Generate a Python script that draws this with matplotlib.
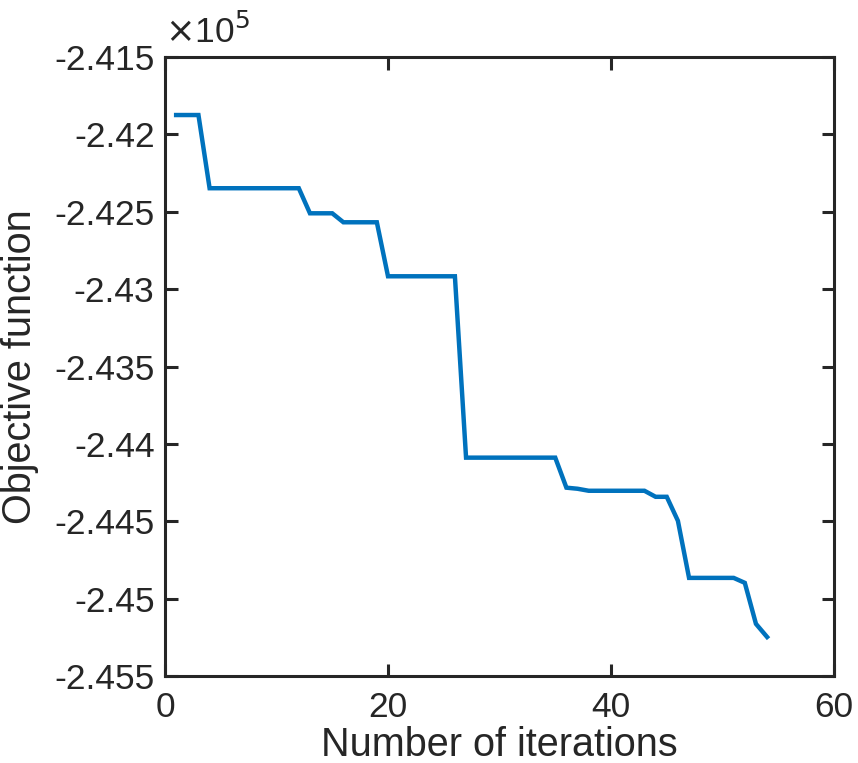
import matplotlib
matplotlib.use("Agg")
import matplotlib.pyplot as plt
from matplotlib.ticker import FuncFormatter

# ========== Data ==========
iterations = list(range(1, 55))
objective = [
    -241875, -241875, -241875,
    -242348, -242348, -242348, -242348, -242348, -242348, -242348, -242348, -242348,
    -242510, -242510, -242510,
    -242568, -242568, -242568, -242568,
    -242917, -242917, -242917, -242917, -242917, -242917, -242917,
    -244089, -244089, -244089, -244089, -244089, -244089, -244089, -244089, -244089,
    -244283, -244290,
    -244303, -244303, -244303, -244303, -244303, -244303,
    -244342, -244342,
    -244497,
    -244866, -244866, -244866, -244866, -244866,
    -244898,
    -245163,
    -245248,
]
x_ticks = [0, 20, 40, 60]
y_ticks = [-245500, -245000, -244500, -244000, -243500, -243000, -242500, -242000, -241500]

# ========== Style ==========
plt.rcParams["font.family"] = ["Liberation Sans", "DejaVu Sans"]
AX_COLOR = "#262626"
TICK_FS = 25.5
LABEL_FS = 28.5

fig = plt.figure(figsize=(8.58, 7.63), dpi=100)
ax = fig.add_axes([165 / 858, 1 - 676 / 763, (834 - 165) / 858, (676 - 57) / 763])

ax.plot(iterations, objective, color="#0072BD", linewidth=3.2, solid_joinstyle="miter")

ax.set_xlim(0, 60)
ax.set_ylim(-245500, -241500)
ax.set_xticks(x_ticks)
ax.set_yticks(y_ticks)
ax.yaxis.set_major_formatter(FuncFormatter(lambda v, p: "%g" % round(v / 1e5, 4)))

for side in ["left", "right", "top", "bottom"]:
    ax.spines[side].set_linewidth(2.2)
    ax.spines[side].set_color(AX_COLOR)
ax.tick_params(direction="in", length=9, width=2.2, color=AX_COLOR,
               labelcolor=AX_COLOR, labelsize=TICK_FS,
               top=True, right=True)
ax.tick_params(axis="x", pad=11)
ax.tick_params(axis="y", pad=7.5)

ax.set_xlabel("Number of iterations", fontsize=LABEL_FS, color=AX_COLOR, labelpad=1)
ax.set_ylabel("Objective function", fontsize=LABEL_FS, color=AX_COLOR, labelpad=11)

# exponent label, MATLAB style
ax.text(0.0, 1.012, r"$\times$10$^5$", transform=ax.transAxes, fontsize=TICK_FS,
        color=AX_COLOR, ha="left", va="bottom")

# descender of a cut-off title letter at the top edge
fig.text(751 / 858, 1 + 10 / 763, "g", fontsize=36, ha="center", va="baseline", color="black")

fig.savefig("out.png", dpi=100)
